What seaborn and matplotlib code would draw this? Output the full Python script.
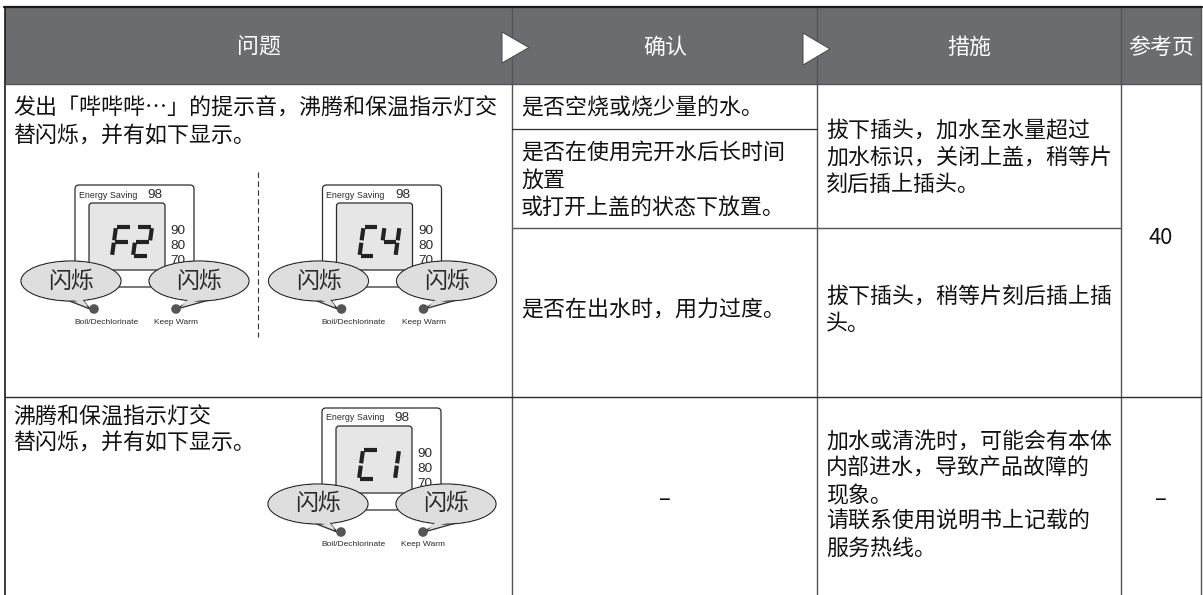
import matplotlib
matplotlib.use("Agg")
import matplotlib.pyplot as plt
import seaborn as sns
from matplotlib.patches import Rectangle, Polygon, Ellipse, Circle, FancyBboxPatch

# table text
headers = ["问题", "确认", "措施", "参考页"]
problem_1 = ["发出「哔哔哔…」的提示音，沸腾和保温指示灯交", "替闪烁，并有如下显示。"]
problem_2 = ["沸腾和保温指示灯交", "替闪烁，并有如下显示。"]
check_1 = ["是否空烧或烧少量的水。"]
check_2 = ["是否在使用完开水后长时间", "放置", "或打开上盖的状态下放置。"]
check_3 = ["是否在出水时，用力过度。"]
check_4 = ["–"]
action_1 = ["拔下插头，加水至水量超过", "加水标识，关闭上盖，稍等片", "刻后插上插头。"]
action_2 = ["拔下插头，稍等片刻后插上插", "头。"]
action_3 = ["加水或清洗时，可能会有本体", "内部进水，导致产品故障的", "现象。", "请联系使用说明书上记载的", "服务热线。"]
page_1 = "40"
page_2 = "–"
panel_codes = ["F2", "C4", "C1"]
bubble_text = "闪烁"
scale_labels = ["90", "80", "70"]

# which segments are lit, a top, b top right, c bottom right, d bottom, e bottom left, f top left, g middle
segments = {"F": "aefg", "2": "abged", "C": "adef", "4": "bcfg", "1": "bc"}

CJK = ["Noto Sans CJK SC", "DejaVu Sans"]
LATIN = ["Liberation Sans", "DejaVu Sans"]
HEAD = "#6b6c70"
DARK = "#2b2b2b"
LINE = "#555555"
SIZE = 15.8

sns.set_theme(style="white")
plt.rcParams["font.family"] = CJK

fig = plt.figure(figsize=(12.03, 5.95), dpi=100)
ax = fig.add_axes([0, 0, 1, 1])
ax.set_xlim(0, 1203)
ax.set_ylim(595, 0)
ax.axis("off")


def lines(x, ys, txts, color="#111111"):
    for y, t in zip(ys, txts):
        ax.text(x, y + 1, t, fontsize=SIZE, color=color, va="center", ha="left", family=CJK, weight="medium")


def centre(x, y, t, color="#111111", size=SIZE):
    ax.text(x, y + 1, t, fontsize=size, color=color, va="center", ha="center", family=CJK, weight="medium")


def digit(x, y, ch):
    w, h, skew = 15, 29, 4
    pts = {"tl": (x + skew, y), "tr": (x + skew + w, y),
           "ml": (x + skew / 2, y + h / 2), "mr": (x + skew / 2 + w, y + h / 2),
           "bl": (x, y + h), "br": (x + w, y + h)}
    segs = {"a": ("tl", "tr"), "b": ("tr", "mr"), "c": ("mr", "br"), "d": ("bl", "br"),
            "e": ("ml", "bl"), "f": ("tl", "ml"), "g": ("ml", "mr")}
    for s in segments[ch]:
        p, q = segs[s]
        # small gaps between the segments
        x0 = pts[p][0] + (pts[q][0] - pts[p][0]) * 0.08
        x1 = pts[p][0] + (pts[q][0] - pts[p][0]) * 0.92
        y0 = pts[p][1] + (pts[q][1] - pts[p][1]) * 0.08
        y1 = pts[p][1] + (pts[q][1] - pts[p][1]) * 0.92
        ax.plot([x0, x1], [y0, y1], color="#222222", lw=3.0, solid_capstyle="butt", zorder=4)


def panel(x, y, code):
    # x, y is the top left corner of the white frame
    ax.add_patch(FancyBboxPatch((x + 3, y + 3), 113, 96, boxstyle="round,pad=3,rounding_size=4",
                                fc="white", ec=DARK, lw=0.9, zorder=2))
    ax.add_patch(FancyBboxPatch((x + 16, y + 20), 72, 63, boxstyle="round,pad=2,rounding_size=3",
                                fc="#e6e6e6", ec=DARK, lw=0.9, zorder=3))
    ax.text(x + 4, y + 10, "Energy Saving", fontsize=6.4, family=LATIN, color=DARK, va="center", zorder=4)
    ax.text(x + 80, y + 10, "98", fontsize=9.7, family=LATIN, color=DARK, va="center", ha="center", zorder=4)
    for i, lab in enumerate(scale_labels):
        ax.text(x + 103, y + 46 + i * 15, lab, fontsize=9.7, family=LATIN, color=DARK,
                va="center", ha="center", zorder=3)
    digit(x + 37, y + 42, code[0])
    digit(x + 58, y + 42, code[1])

    for ex, tip, b1, b2 in [(x - 4, (x + 15, y + 124), (x - 8, y + 115), (x + 8, y + 115)),
                            (x + 124, (x + 102, y + 124), (x + 114, y + 115), (x + 134, y + 115))]:
        ax.add_patch(Polygon([b1, tip, b2], fc="#dedede", ec=DARK, lw=0.9, zorder=5))
        ax.add_patch(Ellipse((ex, y + 96), 100, 40, fc="#dedede", ec=DARK, lw=0.9, zorder=5))
        ax.add_patch(Ellipse((ex, y + 96), 98.5, 38.5, fc="#dedede", ec="none", zorder=6))
        ax.add_patch(Polygon([(b1[0] + 2, b1[1] - 2), (tip[0] - 2 if tip[0] > ex else tip[0] + 2, tip[1] - 3),
                              (b2[0] - 2, b2[1] - 2)], fc="#dedede", ec="none", zorder=6))
        ax.text(ex, y + 96, bubble_text, fontsize=16.5, color=DARK, family=CJK, va="center", ha="center", zorder=7)
    ax.add_patch(Circle((x + 19, y + 124), 4.8, fc="#555555", ec="none", zorder=7))
    ax.add_patch(Circle((x + 101, y + 124), 4.8, fc="#555555", ec="none", zorder=7))
    ax.text(x + 31, y + 137, "Boil/Dechlorinate", fontsize=6.0, family=LATIN, color=DARK,
            va="center", ha="center", zorder=4)
    ax.text(x + 101, y + 137, "Keep Warm", fontsize=6.0, family=LATIN, color=DARK,
            va="center", ha="center", zorder=4)


# header band
ax.add_patch(Rectangle((5, 7), 1196, 77, fc=HEAD, ec="none", zorder=1))
ax.plot([4, 1202], [7, 7], color="#1a1a1a", lw=1.6, zorder=3)

# grid
for x in [512, 817, 1121]:
    ax.plot([x, x], [7, 595], color=LINE, lw=1.0, zorder=2)
ax.plot([5, 5], [7, 595], color="#1a1a1a", lw=1.2, zorder=2)
ax.plot([1201, 1201], [7, 595], color=LINE, lw=1.0, zorder=2)
ax.plot([5, 1201], [84, 84], color=LINE, lw=1.0, zorder=2)
ax.plot([512, 817], [129, 129], color=DARK, lw=0.9, zorder=2)
ax.plot([512, 1121], [228, 228], color=LINE, lw=1.0, zorder=2)
ax.plot([5, 1201], [397, 397], color=DARK, lw=1.0, zorder=2)
ax.plot([258, 258], [172, 337], color="#333333", lw=0.8, ls=(0, (5, 3)), zorder=2)

# arrows in the header
for tri in [[(502, 32), (529, 47.5), (502, 63)], [(803, 33), (830, 49), (803, 65)]]:
    ax.add_patch(Polygon(tri, fc="white", ec="#444444", lw=0.7, zorder=4))

# header text
for x, t in zip([259, 665, 969, 1161], headers):
    centre(x, 47, t, color="white")

# cell text
lines(13, [108, 135], problem_1)
lines(13, [417, 442], problem_2)
lines(521, [108], check_1)
lines(521, [153, 180, 207], check_2)
lines(521, [310], check_3)
centre(665, 498, check_4[0])
lines(826, [130, 157, 184], action_1)
lines(826, [296, 323], action_2)
lines(826, [441, 468, 495, 521, 548], action_3)
centre(1161, 237, page_1)
centre(1161, 498, page_2)

panel(75, 185, panel_codes[0])
panel(322.5, 185, panel_codes[1])
panel(322, 408, panel_codes[2])

fig.savefig("out.png", dpi=100)
